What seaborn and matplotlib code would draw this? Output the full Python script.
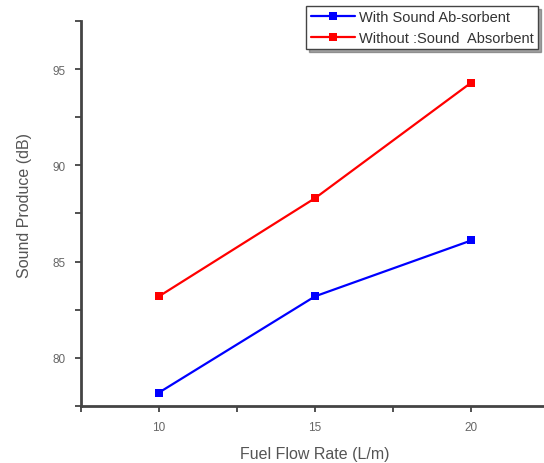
import matplotlib
matplotlib.use('Agg')
import matplotlib.pyplot as plt
import seaborn as sns
import pandas as pd
from matplotlib.ticker import MultipleLocator

# Data
flow_rate = [10, 15, 20]
with_absorbent = [78.2, 83.2, 86.1]
without_absorbent = [83.2, 88.3, 94.3]
series_names = ['With Sound Ab-sorbent', 'Without :Sound  Absorbent']

df = pd.DataFrame({
    'flow': flow_rate * 2,
    'sound': with_absorbent + without_absorbent,
    'series': [series_names[0]] * 3 + [series_names[1]] * 3,
})

sns.set_style('white')
plt.rcParams['font.family'] = ['Liberation Sans', 'DejaVu Sans']

fig = plt.figure(figsize=(5.44, 4.64), dpi=100)
ax = fig.add_axes([81 / 544, 57 / 464, 1 - 81 / 544, (407 - 22) / 464])

sns.lineplot(
    data=df, x='flow', y='sound', hue='series', style='series',
    palette=['#0000ff', '#ff0000'], markers=['s', 's'], dashes=False,
    linewidth=1.6, markersize=5.5, markeredgewidth=0, ax=ax,
)

ax.set_xlim(7.5, 22.33)
ax.set_ylim(77.5, 97.5)
ax.xaxis.set_major_locator(MultipleLocator(5))
ax.xaxis.set_minor_locator(MultipleLocator(2.5))
ax.yaxis.set_major_locator(MultipleLocator(5))
ax.yaxis.set_minor_locator(MultipleLocator(2.5))

for side in ['top', 'right']:
    ax.spines[side].set_visible(False)
for side in ['left', 'bottom']:
    ax.spines[side].set_color('#444444')
    ax.spines[side].set_linewidth(2)

ax.tick_params(which='both', direction='out', length=4, width=1.2,
               color='#333333', labelsize=8.5, labelcolor='#666666', pad=7,
               left=True, bottom=True)

ax.set_xlabel('Fuel Flow Rate (L/m)', fontsize=11.5, color='#555555')
ax.set_ylabel('Sound Produce (dB)', fontsize=11.5, color='#555555')
ax.xaxis.set_label_coords((315 - 81) / 463, -(455 - 407) / 385)
ax.yaxis.set_label_coords(-(81 - 25) / 463, (407 - 205) / 385)
ax.xaxis.label.set_va('center')
ax.yaxis.label.set_va('center')

handles, labels = ax.get_legend_handles_labels()
leg = ax.legend(handles, labels, loc='upper right',
                bbox_to_anchor=(538 / 544, 1 - 7 / 464),
                bbox_transform=fig.transFigure,
                frameon=True, fancybox=False, shadow=True, fontsize=10.5,
                handlelength=3, handletextpad=0.3, borderpad=0.3,
                labelspacing=0.45, borderaxespad=0)
leg.get_frame().set_edgecolor('#444444')
leg.get_frame().set_linewidth(1)
for t in leg.get_texts():
    t.set_color('#333333')

fig.savefig('out.png', dpi=100)
